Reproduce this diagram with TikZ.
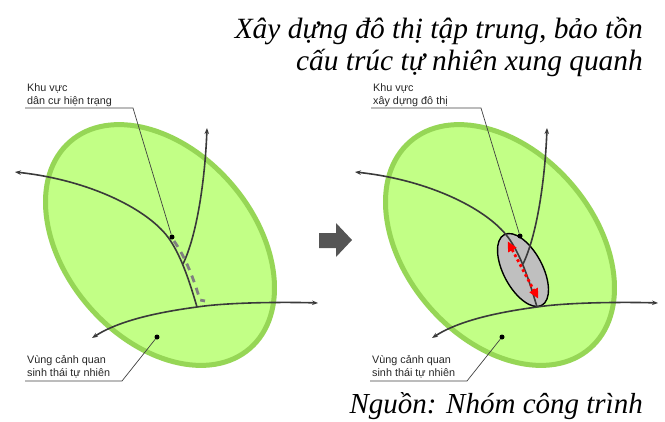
\documentclass[tikz,border=0pt]{standalone}
\usepackage{fontspec}
\setmainfont{Liberation Serif}
\setsansfont{Liberation Sans}
\usetikzlibrary{arrows.meta,positioning,calc,shapes.geometric}
\definecolor{zonefill}{RGB}{194,255,134}
\definecolor{zoneline}{RGB}{150,214,86}
\definecolor{roadgray}{RGB}{58,58,58}
\definecolor{arrowgray}{RGB}{85,85,85}

\begin{document}
\begin{tikzpicture}[x=1pt,y=-1pt, every node/.style={font=\sffamily\fontsize{10.8}{12.5}\selectfont},
  >={Stealth[length=6pt,width=4.5pt]},
  zone/.style={fill=zonefill, draw=zoneline, line width=5pt},
  road/.style={draw=roadgray, line width=1.6pt},
  oldroad/.style={draw=gray, line width=2.8pt, dash pattern=on 7pt off 6pt},
  city/.style={ellipse, draw=black, fill=black!25, line width=1.4pt, minimum width=80pt, minimum height=39pt, inner sep=0pt},
  spread/.style={draw=red, line width=2.8pt, dash pattern=on 2.8pt off 2.8pt, {Triangle[length=10pt,width=9pt]}-{Triangle[length=10pt,width=9pt]}},
  leader/.style={draw=black!75, line width=0.7pt},
  pin/.style={circle, fill=black, minimum size=5pt, inner sep=0pt},
  note/.style={anchor=base west, align=left, inner sep=0pt, text=black!85},
  heading/.style={font=\rmfamily\itshape\fontsize{29.4}{32}\selectfont, anchor=base east, inner sep=0pt}]

\useasboundingbox (0,0) rectangle (665,421);

\foreach \s in {0,340}{
  \draw[zone,xshift=\s] (160,245) ellipse [x radius=137, y radius=94, rotate=-49];
}
\node[city, rotate=-62] (newcity) at (523,270) {};

\foreach \s/\p in {0/L,340/R}{
  \begin{scope}[xshift=\s]
    \coordinate (west\p) at (15,172);
    \coordinate (north\p) at (207,128);
    \coordinate (sw\p) at (92,338);
    \coordinate (east\p) at (318,303);
    \coordinate (cross\p) at (197,307);
    \coordinate (fork\p) at (183,264);
    \coordinate (bend\p) at (170,240);
    \draw[road,->] (cross\p) .. controls (190,283) and (182,258) .. (bend\p) .. controls (150,210) and (90,180) .. (west\p);
    \draw[road,->] (fork\p) .. controls (197,235) and (205,180) .. (north\p);
    \draw[road,<->] (sw\p) .. controls (120,320) and (160,312) .. (cross\p) .. controls (230,302) and (290,302) .. (east\p);
  \end{scope}
}

\draw[oldroad] (174,241) .. controls (186,258) and (194,280) .. (200,300) -- (205,301);
\draw[spread] ($(newcity.west)!0.1!(newcity.east)$) -- ($(newcity.east)!0.1!(newcity.west)$);

\fill[arrowgray] (319,233) -- (336,233) -- (336,223) -- (352,240) -- (336,257) -- (336,248) -- (319,248) -- cycle;

\node[pin] (pinL) at (172,237) {};
\node[pin] (pinR) at (520,236) {};
\node[pin] (zonepinL) at (157,337) {};
\node[pin] (zonepinR) at (502,337) {};

\node[note] (khuL) at (27,104) {Khu vực\\dân cư hiện trạng};
\node[note] (khuR) at (373,104) {Khu vực\\xây dựng đô thị};
\node[note] (vungL) at (27,376) {Vùng cảnh quan\\sinh thái tự nhiên};
\node[note] (vungR) at (372,376) {Vùng cảnh quan\\sinh thái tự nhiên};

\coordinate (kneeL) at (133,108);
\coordinate (kneeR) at (481,108);
\coordinate (zkneeL) at (122,381);
\coordinate (zkneeR) at (467,381);
\draw[leader] (pinL) -- (kneeL) -- ([xshift=-2pt]kneeL -| khuL.west);
\draw[leader] (pinR) -- (kneeR) -- ([xshift=-2pt]kneeR -| khuR.west);
\draw[leader] (zonepinL) -- (zkneeL) -- ([xshift=-2pt]zkneeL -| vungL.west);
\draw[leader] (zonepinR) -- (zkneeR) -- ([xshift=-2pt]zkneeR -| vungR.west);

\node[heading] (title1) at (643,38) {Xây dựng đô thị tập trung, bảo tồn};
\node[heading] (title2) at (643,70) {cấu trúc tự nhiên xung quanh};
\node[heading, font=\rmfamily\itshape\fontsize{29}{32}\selectfont] (source) at (643,413) {Nguồn: Nhóm công trình};
\end{tikzpicture}
\end{document}
